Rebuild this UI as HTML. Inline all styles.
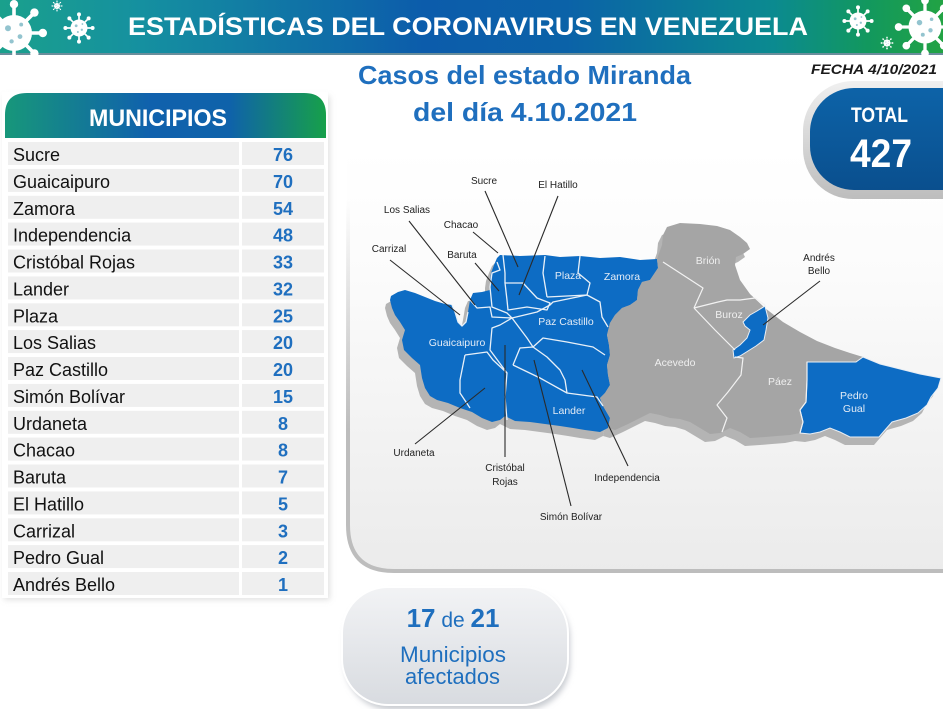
<!DOCTYPE html>
<html><head><meta charset="utf-8"><style>
html,body{margin:0;padding:0;background:#fff;width:943px;height:709px;overflow:hidden}
svg{display:block}
text{font-family:"Liberation Sans",sans-serif}
</style></head><body>
<svg width="943" height="709" viewBox="0 0 943 709" xmlns="http://www.w3.org/2000/svg">
<defs>
<linearGradient id="ban" x1="0" y1="0" x2="1" y2="0">
<stop offset="0" stop-color="#1aa08c"/><stop offset="0.15" stop-color="#1590a0"/><stop offset="0.45" stop-color="#0c5cab"/><stop offset="0.6" stop-color="#0b62a8"/><stop offset="0.82" stop-color="#0b8a90"/><stop offset="0.92" stop-color="#12985e"/><stop offset="1" stop-color="#22a344"/>
</linearGradient>
<linearGradient id="hdr" x1="0" y1="0" x2="1" y2="0">
<stop offset="0" stop-color="#17977a"/><stop offset="0.45" stop-color="#1061ad"/><stop offset="0.7" stop-color="#0f62aa"/><stop offset="1" stop-color="#17a04a"/>
</linearGradient>
<linearGradient id="panel" gradientUnits="userSpaceOnUse" x1="0" y1="150" x2="0" y2="572">
<stop offset="0" stop-color="#ffffff"/><stop offset="0.3" stop-color="#fbfbfb"/><stop offset="1" stop-color="#ebebeb"/>
</linearGradient>
<linearGradient id="pborder" gradientUnits="userSpaceOnUse" x1="0" y1="200" x2="0" y2="430">
<stop offset="0" stop-color="#c4c4c4" stop-opacity="0"/><stop offset="1" stop-color="#bdbdbd" stop-opacity="1"/>
</linearGradient>
<linearGradient id="tot" x1="0" y1="0" x2="0" y2="1">
<stop offset="0" stop-color="#0d63a8"/><stop offset="1" stop-color="#0a4f8e"/>
</linearGradient>
<linearGradient id="totb" x1="0" y1="0" x2="0" y2="1">
<stop offset="0" stop-color="#f0f0f0"/><stop offset="1" stop-color="#bdbdbd"/>
</linearGradient>
<linearGradient id="pill" x1="0" y1="0" x2="0" y2="1">
<stop offset="0" stop-color="#f2f3f5"/><stop offset="1" stop-color="#d8dbe0"/>
</linearGradient>
<filter id="blur" x="-10%" y="-10%" width="120%" height="120%"><feGaussianBlur stdDeviation="3"/></filter>
<symbol id="vir" viewBox="-30 -30 60 60">
<g stroke="#fff" stroke-width="3" stroke-linecap="round">
<line x1="0" y1="-12" x2="0" y2="-23"/><line x1="0" y1="12" x2="0" y2="23"/>
<line x1="-12" y1="0" x2="-23" y2="0"/><line x1="12" y1="0" x2="23" y2="0"/>
<line x1="8.5" y1="8.5" x2="16.5" y2="16.5"/><line x1="-8.5" y1="8.5" x2="-16.5" y2="16.5"/>
<line x1="8.5" y1="-8.5" x2="16.5" y2="-16.5"/><line x1="-8.5" y1="-8.5" x2="-16.5" y2="-16.5"/>
</g>
<g fill="#fff">
<circle r="15"/>
<circle cx="0" cy="-24" r="3.5"/><circle cx="0" cy="24" r="3.5"/><circle cx="-24" cy="0" r="3.5"/><circle cx="24" cy="0" r="3.5"/>
<circle cx="17" cy="17" r="3.5"/><circle cx="-17" cy="17" r="3.5"/><circle cx="17" cy="-17" r="3.5"/><circle cx="-17" cy="-17" r="3.5"/>
</g>
<g fill="#2a8aa0" opacity="0.5"><circle cx="-5" cy="-4" r="2.5"/><circle cx="5" cy="3" r="2"/><circle cx="-2" cy="7" r="1.8"/><circle cx="6" cy="-7" r="1.6"/></g>
</symbol>
<g id="mapshape">
<polygon points="391,296 398,292 405,290 415,293 425,297 435,301 445,304 452,305 455,312 457,320 462,326 466,322 468,312 470,300 473,293 482,292 490,290 490,280 491,273 494,265 497,258 500,255 520,256 545,255 560,257 580,256 600,258 620,257 640,260 657,259 658,268 654,274 650,280 642,282 638,290 637,300 630,305 622,308 615,315 610,323 607,335 609,345 610,355 607,365 608,375 610,385 605,393 600,398 603,406 610,418 608,428 600,432 585,430 573,428 560,426 545,424 530,422 515,421 505,416 500,420 492,422 482,418 472,412 460,408 448,403 437,400 430,396 425,388 422,378 420,365 412,358 404,350 402,340 405,330 400,322 395,315 392,308 390,300"/>
<polygon points="657,259 662,245 663,235 667,227 680,223 700,224 717,226 730,230 740,237 747,243 750,249 743,254 736,257 735,265 740,280 750,294 765,308 783,322 800,332 817,341 835,348 850,353 863,357 880,364 900,369 920,374 941,378 938,388 931,397 927,405 918,413 906,418 892,422 885,430 879,437 865,437 850,437 840,432 830,428 820,432 810,434 800,433 790,435 777,436 765,437 750,438 740,432 730,428 720,433 710,434 700,428 690,422 680,419 670,418 660,415 650,413 640,418 628,424 615,430 608,428 610,418 603,406 600,398 605,393 610,385 608,375 607,365 610,355 609,345 607,335 610,323 615,315 622,308 630,305 637,300 638,290 642,282 650,280 654,274 658,268"/>
</g>
</defs>

<!-- map panel (drawn first) -->
<path d="M347 150 L347 525 Q347 572 394 572 L943 572 L943 150 Z" fill="url(#panel)"/>
<path d="M348 150 L348 525 Q348 571 394 571 L943 571" fill="none" stroke="url(#pborder)" stroke-width="4"/>

<!-- banner -->
<rect x="0" y="0" width="943" height="54" fill="url(#ban)"/>
<rect x="0" y="53" width="943" height="2" fill="#6a8e9c"/>
<use href="#vir" x="-22" y="-3" width="72" height="72"/>
<use href="#vir" x="51" y="0" width="12" height="12"/>
<use href="#vir" x="62" y="11" width="34" height="34"/>
<use href="#vir" x="841" y="4" width="34" height="34"/>
<use href="#vir" x="880" y="36" width="14" height="14"/>
<use href="#vir" x="892" y="-6" width="66" height="66"/>
<text x="128" y="35" font-size="25" font-weight="bold" fill="#fff" textLength="680" lengthAdjust="spacingAndGlyphs">ESTADÍSTICAS DEL CORONAVIRUS EN VENEZUELA</text>

<!-- titles -->
<text x="358" y="84" font-size="26" font-weight="bold" fill="#1f6fbe" textLength="333" lengthAdjust="spacingAndGlyphs">Casos del estado Miranda</text>
<text x="413" y="121" font-size="26" font-weight="bold" fill="#1f6fbe" textLength="224" lengthAdjust="spacingAndGlyphs">del día 4.10.2021</text>
<text x="811" y="74" font-size="14" font-weight="bold" font-style="italic" fill="#1a1a1a" textLength="126" lengthAdjust="spacingAndGlyphs">FECHA 4/10/2021</text>

<!-- total box -->
<rect x="803" y="81" width="220" height="118" rx="50" fill="url(#totb)"/>
<rect x="810" y="88" width="210" height="102" rx="44" fill="url(#tot)"/>
<text x="851" y="122" font-size="21" font-weight="bold" fill="#fff" textLength="57" lengthAdjust="spacingAndGlyphs">TOTAL</text>
<text x="850" y="167" font-size="40" font-weight="bold" fill="#fff" textLength="62" lengthAdjust="spacingAndGlyphs">427</text>

<!-- table panel shadow -->
<rect x="4" y="96" width="326" height="504" fill="#cfcfcf" filter="url(#blur)" opacity="0.6"/>
<rect x="2" y="92" width="326" height="506" fill="#fff"/>
<path d="M5 138 L5 115 Q5 93 27 93 L304 93 Q326 93 326 115 L326 138 Z" fill="url(#hdr)"/>
<text x="89" y="126" font-size="24" font-weight="bold" fill="#fff" textLength="138" lengthAdjust="spacingAndGlyphs">MUNICIPIOS</text>

<g fill="#efefef">
<rect x="8" y="142" width="231" height="23"/><rect x="242" y="142" width="82" height="23"/>
<rect x="8" y="168.9" width="231" height="23"/><rect x="242" y="168.9" width="82" height="23"/>
<rect x="8" y="195.8" width="231" height="23"/><rect x="242" y="195.8" width="82" height="23"/>
<rect x="8" y="222.6" width="231" height="23"/><rect x="242" y="222.6" width="82" height="23"/>
<rect x="8" y="249.5" width="231" height="23"/><rect x="242" y="249.5" width="82" height="23"/>
<rect x="8" y="276.4" width="231" height="23"/><rect x="242" y="276.4" width="82" height="23"/>
<rect x="8" y="303.3" width="231" height="23"/><rect x="242" y="303.3" width="82" height="23"/>
<rect x="8" y="330.1" width="231" height="23"/><rect x="242" y="330.1" width="82" height="23"/>
<rect x="8" y="357" width="231" height="23"/><rect x="242" y="357" width="82" height="23"/>
<rect x="8" y="383.9" width="231" height="23"/><rect x="242" y="383.9" width="82" height="23"/>
<rect x="8" y="410.8" width="231" height="23"/><rect x="242" y="410.8" width="82" height="23"/>
<rect x="8" y="437.6" width="231" height="23"/><rect x="242" y="437.6" width="82" height="23"/>
<rect x="8" y="464.5" width="231" height="23"/><rect x="242" y="464.5" width="82" height="23"/>
<rect x="8" y="491.4" width="231" height="23"/><rect x="242" y="491.4" width="82" height="23"/>
<rect x="8" y="518.3" width="231" height="23"/><rect x="242" y="518.3" width="82" height="23"/>
<rect x="8" y="545.1" width="231" height="23"/><rect x="242" y="545.1" width="82" height="23"/>
<rect x="8" y="572" width="231" height="23"/><rect x="242" y="572" width="82" height="23"/>
</g>
<g font-size="18" fill="#111">
<text x="13" y="161">Sucre</text>
<text x="13" y="188">Guaicaipuro</text>
<text x="13" y="215">Zamora</text>
<text x="13" y="241.6">Independencia</text>
<text x="13" y="268.5">Cristóbal Rojas</text>
<text x="13" y="295.4">Lander</text>
<text x="13" y="322.3">Plaza</text>
<text x="13" y="349.1">Los Salias</text>
<text x="13" y="376">Paz Castillo</text>
<text x="13" y="402.9">Simón Bolívar</text>
<text x="13" y="429.8">Urdaneta</text>
<text x="13" y="456.6">Chacao</text>
<text x="13" y="483.5">Baruta</text>
<text x="13" y="510.4">El Hatillo</text>
<text x="13" y="537.3">Carrizal</text>
<text x="13" y="564.1">Pedro Gual</text>
<text x="13" y="591">Andrés Bello</text>
</g>
<g font-size="18" font-weight="bold" fill="#1f6fbf" text-anchor="middle">
<text x="283" y="161">76</text>
<text x="283" y="188">70</text>
<text x="283" y="215">54</text>
<text x="283" y="241.6">48</text>
<text x="283" y="268.5">33</text>
<text x="283" y="295.4">32</text>
<text x="283" y="322.3">25</text>
<text x="283" y="349.1">20</text>
<text x="283" y="376">20</text>
<text x="283" y="402.9">15</text>
<text x="283" y="429.8">8</text>
<text x="283" y="456.6">8</text>
<text x="283" y="483.5">7</text>
<text x="283" y="510.4">5</text>
<text x="283" y="537.3">3</text>
<text x="283" y="564.1">2</text>
<text x="283" y="591">1</text>
</g>

<!-- map shadow -->
<use href="#mapshape" fill="#b4b4b4" transform="translate(-5,8)"/>
<!-- map -->
<polygon points="391,296 398,292 405,290 415,293 425,297 435,301 445,304 452,305 455,312 457,320 462,326 466,322 468,312 470,300 473,293 482,292 490,290 490,280 491,273 494,265 497,258 500,255 520,256 545,255 560,257 580,256 600,258 620,257 640,260 657,259 658,268 654,274 650,280 642,282 638,290 637,300 630,305 622,308 615,315 610,323 607,335 609,345 610,355 607,365 608,375 610,385 605,393 600,398 603,406 610,418 608,428 600,432 585,430 573,428 560,426 545,424 530,422 515,421 505,416 500,420 492,422 482,418 472,412 460,408 448,403 437,400 430,396 425,388 422,378 420,365 412,358 404,350 402,340 405,330 400,322 395,315 392,308 390,300" fill="#0d6cc4"/>
<polygon points="657,259 662,245 663,235 667,227 680,223 700,224 717,226 730,230 740,237 747,243 750,249 743,254 736,257 735,265 740,280 750,294 765,308 783,322 800,332 817,341 835,348 850,353 863,357 856,362 807,362 807,380 806,402 800,410 803,422 800,433 790,435 777,436 765,437 750,438 740,432 730,428 720,433 710,434 700,428 690,422 680,419 670,418 660,415 650,413 640,418 628,424 615,430 608,428 610,418 603,406 600,398 605,393 610,385 608,375 607,365 610,355 609,345 607,335 610,323 615,315 622,308 630,305 637,300 638,290 642,282 650,280 654,274 658,268" fill="#a5a5a5"/>
<polygon points="807,362 856,362 863,357 880,364 900,369 920,374 941,378 938,388 931,397 927,405 918,413 906,418 892,422 885,430 879,437 865,437 850,437 840,432 830,428 820,432 810,434 800,433 803,422 800,410 806,402 807,380" fill="#0d6cc4" stroke="#e8eef5" stroke-width="1"/>
<polygon points="743,322 750,315 757,311 765,306 768,318 766,330 764,340 756,346 748,351 740,356 734,358 733,350 740,345 747,338 750,330 745,326" fill="#0d6cc4" stroke="#e8eef5" stroke-width="1"/>

<!-- municipal borders -->
<g fill="none" stroke="#e8f0f8" stroke-width="1.3" stroke-linejoin="round">
<polyline points="545,256 543,273 547,297"/>
<polyline points="580,256 578,273 590,283 587,295"/>
<polyline points="547,297 567,296 587,295"/>
<polyline points="587,295 600,302 602,317 608,327"/>
<polygon points="505,283 523,283 537,298 550,303 547,310 527,307 508,310 507,300"/>
<polyline points="503,255 505,273 505,283"/>
<polyline points="497,262 500,270 492,273 490,287 492,307 507,313 512,318"/>
<polyline points="512,318 537,312 550,305 553,302 587,295"/>
<polyline points="470,300 477,308 490,307 492,317 512,318"/>
<polyline points="452,305 455,312 458,322 462,326 466,322 468,312"/>
<polyline points="512,318 500,325 492,328 490,350 507,373 505,397 507,420"/>
<polyline points="512,318 527,338 533,347"/>
<polyline points="465,355 487,352 493,360 507,373"/>
<polyline points="465,355 460,380 460,393 470,408"/>
<polyline points="513,365 520,348 533,347 547,357 560,370 565,380 567,393"/>
<polyline points="513,365 540,378 567,393 597,397 603,406"/>
<polyline points="533,347 543,338 567,342 593,347 605,355"/>
</g>
<g fill="none" stroke="#f2f2f2" stroke-width="1.2" stroke-linejoin="round">
<polyline points="663,262 703,288 694,308"/>
<polyline points="694,308 718,302 727,300 740,300 755,298 765,305"/>
<polyline points="694,308 715,330 735,350"/>
<polyline points="735,357 743,358 741,375 728,392 717,405 727,418 722,432"/>
<polyline points="807,362 807,380 806,402 800,410 803,422 800,433"/>
</g>

<!-- leader lines -->
<g stroke="#2a2a2a" stroke-width="1.1" fill="none">
<line x1="485" y1="191" x2="518" y2="267"/>
<line x1="558" y1="196" x2="519" y2="295"/>
<line x1="409" y1="221" x2="475" y2="305"/>
<line x1="473" y1="232" x2="498" y2="253"/>
<line x1="390" y1="260" x2="460" y2="315"/>
<line x1="475" y1="263" x2="499" y2="291"/>
<line x1="820" y1="281" x2="763" y2="325"/>
<line x1="415" y1="444" x2="485" y2="388"/>
<line x1="505" y1="457" x2="505" y2="345"/>
<line x1="571" y1="506" x2="534" y2="360"/>
<line x1="628" y1="466" x2="582" y2="370"/>
</g>
<g font-size="10" fill="#222" text-anchor="middle">
<text x="484" y="184">Sucre</text>
<text x="558" y="188">El Hatillo</text>
<text x="407" y="213">Los Salias</text>
<text x="461" y="228">Chacao</text>
<text x="389" y="252">Carrizal</text>
<text x="462" y="258">Baruta</text>
<text x="819" y="261">Andrés</text>
<text x="819" y="274">Bello</text>
<text x="414" y="456">Urdaneta</text>
<text x="505" y="471">Cristóbal</text>
<text x="505" y="485">Rojas</text>
<text x="571" y="520">Simón Bolívar</text>
<text x="627" y="481">Independencia</text>
</g>
<g font-size="10.5" fill="#e4ecf6" text-anchor="middle">
<text x="568" y="279">Plaza</text>
<text x="622" y="280">Zamora</text>
<text x="566" y="325">Paz Castillo</text>
<text x="457" y="346">Guaicaipuro</text>
<text x="569" y="414">Lander</text>
<text x="854" y="399">Pedro</text>
<text x="854" y="412">Gual</text>
</g>
<g font-size="10.5" fill="#efefef" text-anchor="middle">
<text x="708" y="264">Brión</text>
<text x="729" y="318">Buroz</text>
<text x="675" y="366">Acevedo</text>
<text x="780" y="385">Páez</text>
</g>

<!-- affected pill -->
<rect x="345" y="592" width="225" height="118" rx="46" fill="#c9ccd1" filter="url(#blur)"/>
<rect x="342" y="587" width="226" height="118" rx="46" fill="url(#pill)" stroke="#ffffff" stroke-width="2"/>
<text x="453" y="627" text-anchor="middle" fill="#1f6fbe"><tspan font-size="26" font-weight="bold">17</tspan><tspan font-size="21"> de </tspan><tspan font-size="26" font-weight="bold">21</tspan></text>
<text x="400" y="662" font-size="22" fill="#1f6fbe" textLength="106" lengthAdjust="spacingAndGlyphs">Municipios</text>
<text x="405" y="684" font-size="22" fill="#1f6fbe" textLength="95" lengthAdjust="spacingAndGlyphs">afectados</text>
</svg>
</body></html>
